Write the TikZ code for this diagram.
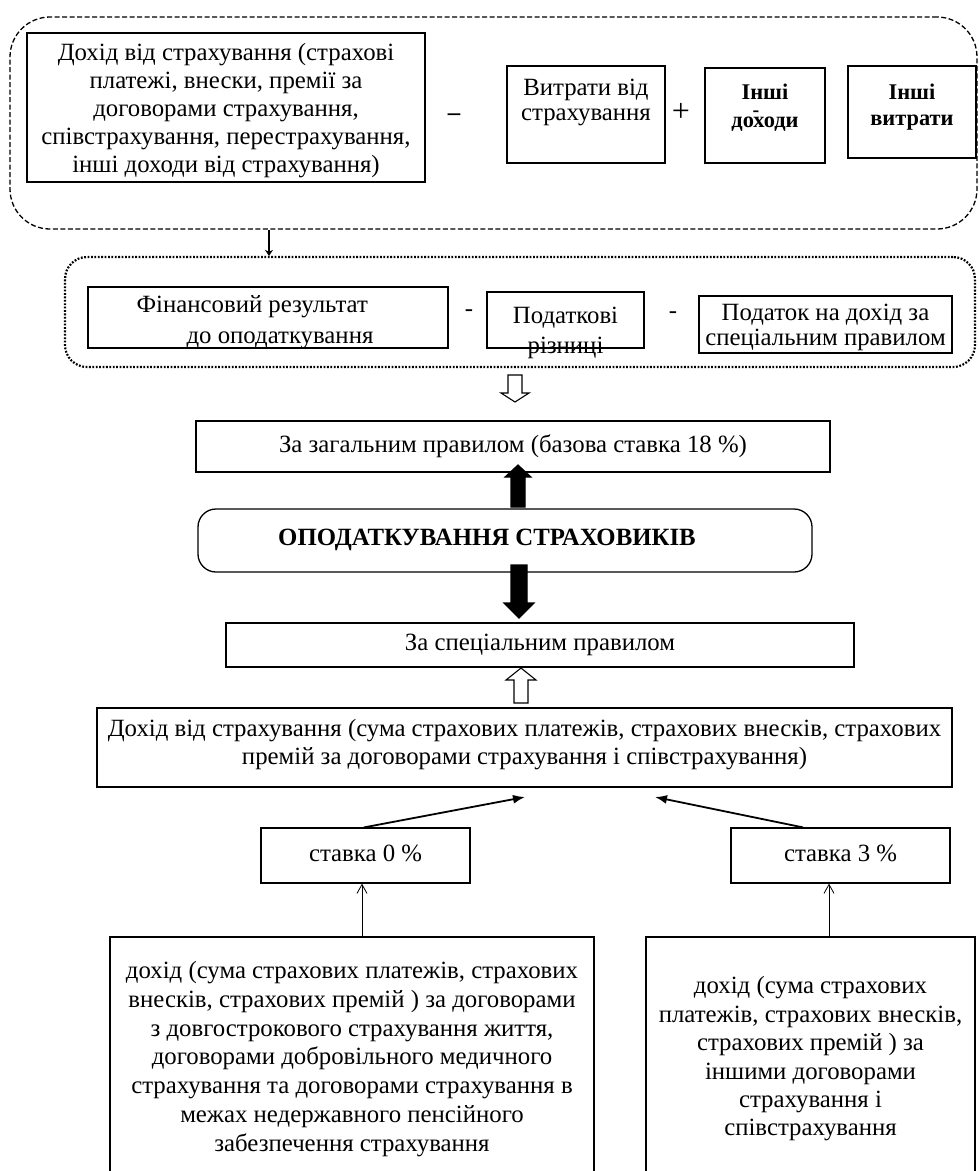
\documentclass[tikz,border=0pt]{standalone}
\usepackage{fontspec}
\setmainfont{Liberation Serif}
\usetikzlibrary{fit,arrows.meta,calc}
\newcommand\blockarr[7]{% x, ytail, ybase, ytip, shaft half, head half, fill
  \draw[line width=1.1pt, fill=#7, line join=miter] (#1-#5,#2) -- (#1-#5,#3) -- (#1-#6,#3) -- (#1,#4) -- (#1+#6,#3) -- (#1+#5,#3) -- (#1+#5,#2) -- cycle;}
\begin{document}
\begin{tikzpicture}[x=1pt,y=-1pt,
  font=\fontsize{24.8pt}{28.7pt}\selectfont,
  box/.style={draw, line width=1.2pt, inner sep=0pt},
  dashbox/.style={draw, line width=1.3pt, inner sep=0pt, rounded corners=40pt, dash pattern=on 5pt off 2.5pt},
  dotbox/.style={draw, line width=2.2pt, inner sep=0pt, rounded corners=22pt, dash pattern=on 1.8pt off 1.6pt},
  rbox/.style={draw, line width=1.3pt, inner sep=0pt, rounded corners=18pt},
  toplab/.style={anchor=north, align=center, inner sep=0pt},
  ctr/.style={align=center, inner sep=0pt},
  diag/.style={line width=1.8pt, -{Latex[length=12pt,width=9pt]}},
  thin/.style={line width=0.8pt, -{Straight Barb[length=9pt,width=10pt]}},
  small/.style={line width=1.2pt, -{Stealth[length=6pt,width=8pt]}}]
\useasboundingbox (0,0) rectangle (979,1171);
\clip (0,0) rectangle (979,1171);
\fill[white] (0,0) rectangle (979,1171);

% --- top group
\node[dashbox, fit={(10,17) (977,229)}] (outer1) {};
\node[box, fit={(27,33) (425,182)}, label={[ctr, yshift=-3pt, font=\fontsize{24.8pt}{28pt}\selectfont]center:{Дохід від страхування (страхові\\платежі, внески, премії за\\договорами страхування,\\співстрахування, перестрахування,\\інші доходи від страхування)}}] (income) {};
\node (m1) at (454,117) {\bfseries –};
\node[box, fit={(507,66) (665,163)}, label={[toplab, yshift=-13pt, font=\fontsize{24.8pt}{25pt}\selectfont]north:{Витрати від\\страхування}}] (cost) {};
\node (p1) at (681,112) {\fontsize{32pt}{32pt}\selectfont +};
\node[box, fit={(705,68) (825,163)}, label={[toplab, yshift=-16pt, font=\fontsize{22.4pt}{28pt}\selectfont\bfseries]north:{Інші\\доходи}}] (oinc) {};
\node (m2) at (756,114) {\fontsize{20pt}{20pt}\selectfont\bfseries -};
\node[box, fit={(848,66) (976,158)}, label={[toplab, yshift=-18pt, font=\fontsize{22.4pt}{26pt}\selectfont\bfseries]north:{Інші\\витрати}}] (ocost) {};

% --- second group
\coordinate (ax) at (269,0);
\node[dotbox, fit={(65,257) (975,367)}] (outer2) {};
\draw[small] (outer1.south -| ax) -- (outer2.north -| ax);
\node[box, fit={(88,287) (448,348)}, label={[anchor=west, align=left, inner sep=0pt, xshift=49pt, yshift=-5pt, font=\fontsize{24.8pt}{31pt}\selectfont]west:{Фінансовий результат\\\hspace*{50pt}до оподаткування}}] (fin) {};
\node (m3) at (469,313) {-};
\node[box, fit={(487,292) (644,348)}, label={[toplab, yshift=-15pt, font=\fontsize{24.8pt}{30pt}\selectfont]north:{Податкові\\різниці}}] (diff) {};
\node (m4) at (673,315) {-};
\node[box, fit={(699,296) (952,353)}, label={[ctr, yshift=-3pt, font=\fontsize{24.8pt}{25pt}\selectfont]center:{Податок на дохід за\\спеціальним правилом}}] (tax) {};

% --- centre
\node[box, fit={(196,421) (830,472)}, label={[ctr]center:{За загальним правилом (базова ставка 18 \%)}}] (gen) {};
\node[rbox, fit={(198,509) (812,572)}, label={[ctr, xshift=-18pt, yshift=1pt]center:{\bfseries ОПОДАТКУВАННЯ СТРАХОВИКІВ}}] (main) {};
\node[box, fit={(226,623) (854,667)}, label={[ctr]center:{За спеціальним правилом}}] (spec) {};
\blockarr{515}{375}{393}{402}{7}{14}{white}
\blockarr{518}{507}{477}{465}{7}{13}{black}
\blockarr{519}{565}{603}{618}{8}{15}{black}
\blockarr{521}{703}{680}{668}{7}{15}{white}

% --- lower part
\node[box, fit={(97,708) (952,787)}, label={[ctr, yshift=3pt, font=\fontsize{24.8pt}{28pt}\selectfont]center:{Дохід від страхування (сума страхових платежів, страхових внесків, страхових\\премій за договорами страхування і співстрахування)}}] (rev) {};
\node[box, fit={(261,828) (470,883)}, label={[ctr, yshift=2pt]center:{ставка 0 \%}}] (r0) {};
\node[box, fit={(731,828) (950,883)}, label={[ctr, yshift=2pt]center:{ставка 3 \%}}] (r3) {};
\coordinate (tl) at (525,797);
\coordinate (tr) at (655,797);
\coordinate (sl) at (364,0);
\coordinate (sr) at (803,0);
\draw[diag] (r0.north -| sl) -- (tl);
\draw[diag] (r3.north -| sr) -- (tr);

\node[box, fit={(110,937) (594,1190)}, label={[toplab, yshift=-25pt]north:{дохід (сума страхових платежів, страхових\\внесків, страхових премій ) за договорами\\з довгострокового страхування життя,\\договорами добровільного медичного\\страхування та договорами страхування в\\межах недержавного пенсійного\\забезпечення страхування}}] (b0) {};
\node[box, fit={(646,937) (975,1190)}, label={[toplab, yshift=-40pt, font=\fontsize{24.8pt}{28.4pt}\selectfont]north:{дохід (сума страхових\\платежів, страхових внесків,\\страхових премій ) за\\іншими договорами\\страхування і\\співстрахування}}] (b3) {};
\coordinate (vl) at (362,0);
\coordinate (vr) at (829,0);
\draw[thin] (b0.north -| vl) -- (r0.south -| vl);
\draw[thin] (b3.north -| vr) -- (r3.south -| vr);
\end{tikzpicture}
\end{document}
